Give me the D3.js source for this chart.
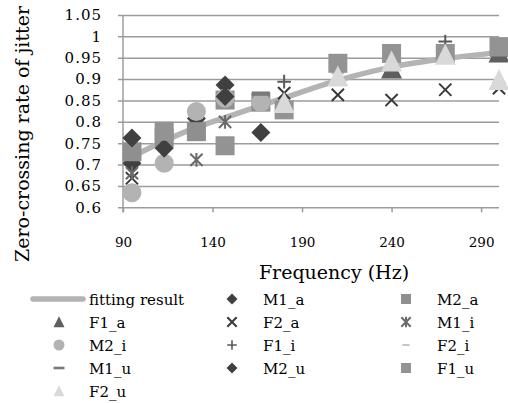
<!DOCTYPE html>
<html>
<head>
<meta charset="utf-8">
<script src="https://cdn.jsdelivr.net/npm/d3@7"></script>
<style>
  html, body { margin: 0; padding: 0; background: #fff; }
  svg { display: block; }
</style>
</head>
<body>
<svg id="chart" width="508" height="403"></svg>
<script>
// ---- data ----
const xTicks = [90, 140, 190, 240, 290];
const yTicks = [0.6, 0.65, 0.7, 0.75, 0.8, 0.85, 0.9, 0.95, 1.0, 1.05];

const fitFreq  = [95, 113, 131, 147, 167, 180, 210, 240, 270, 300];
const fitValue = [0.718, 0.755, 0.787, 0.810, 0.838, 0.856, 0.897, 0.928, 0.948, 0.962];

const M1_a = [[95, 0.703], [131, 0.808], [147, 0.886]];
const M2_a = [[95, 0.730], [113, 0.762], [131, 0.777], [147, 0.851], [167, 0.846]];
const F1_a = [[240, 0.925], [300, 0.962]];
const F2_a = [[95, 0.668], [180, 0.867], [210, 0.863], [240, 0.851], [270, 0.875], [300, 0.879]];
const M1_i = [[95, 0.680], [131, 0.711], [147, 0.800]];
const M2_i = [[95, 0.634], [113, 0.703], [131, 0.824], [147, 0.855], [167, 0.845]];
const F1_i = [[180, 0.894], [270, 0.988]];
const F2_i = [[210, 0.915], [240, 0.945]];
const M1_u = [[167, 0.866], [300, 0.957]];
const M2_u = [[95, 0.762], [113, 0.738], [147, 0.859], [167, 0.775]];
const F1_u = [[113, 0.778], [147, 0.744], [180, 0.828], [210, 0.937], [240, 0.960], [270, 0.960], [300, 0.976]];
const F2_u = [[180, 0.844], [210, 0.906], [240, 0.941], [270, 0.957], [300, 0.898]];

const seriesNames = ["M1_a", "M2_a", "F1_a", "F2_a", "M1_i", "M2_i", "F1_i", "F2_i", "M1_u", "M2_u", "F1_u", "F2_u"];
const seriesData  = [M1_a, M2_a, F1_a, F2_a, M1_i, M2_i, F1_i, F2_i, M1_u, M2_u, F1_u, F2_u];
const seriesShape = ["diamond", "square", "triangle", "x", "asterisk", "circle", "plus", "dashSmall", "dash", "diamond", "square", "triangle"];
const seriesColor = ["#404040", "#8f8f8f", "#5f5f5f", "#3a3a3a", "#6a6a6a", "#b3b3b3", "#5a5a5a", "#c0c0c0", "#7a7a7a", "#404040", "#939393", "#d9d9d9"];

// ---- layout ----
const FONT = "'DejaVu Serif', serif";
const svg = d3.select("#chart");
const x = d3.scaleLinear().domain([90, 300]).range([123, 499]);
const y = d3.scaleLinear().domain([0.6, 1.05]).range([207.3, 15]);
const gridColor = "#9c9c9c";

// gridlines + y axis
const yAxis = d3.axisLeft(y).tickValues(yTicks).tickSize(-(499 - 123)).tickPadding(4)
  .tickFormat(d => String(+d.toFixed(2)));
const gy = svg.append("g").attr("transform", "translate(123,0)").call(yAxis)
  .attr("font-family", null).attr("font-size", null);
gy.select(".domain").remove();
gy.selectAll(".tick line").attr("x1", -5).attr("stroke", gridColor).attr("stroke-width", 1.5);
gy.selectAll(".tick text").attr("x", -21).attr("letter-spacing", "1px")
  .style("font-family", FONT).style("font-size", "15px").attr("fill", "#000");

// y axis vertical line
svg.append("line").attr("x1", 123).attr("x2", 123).attr("y1", y(1.05)).attr("y2", y(0.6) + 5)
  .attr("stroke", gridColor).attr("stroke-width", 1.5);

// x axis
const xAxis = d3.axisBottom(x).tickValues(xTicks).tickSize(5).tickPadding(25);
const gx = svg.append("g").attr("transform", `translate(0,${y(0.6)})`).call(xAxis)
  .attr("font-family", null).attr("font-size", null);
gx.select(".domain").remove();
gx.selectAll(".tick line").attr("stroke", gridColor).attr("stroke-width", 1.5);
gx.selectAll(".tick text")
  .style("font-family", FONT).style("font-size", "13.5px").attr("fill", "#000");

// axis titles
svg.append("text").attr("x", 334).attr("y", 279).attr("text-anchor", "middle")
  .style("font-family", FONT).style("font-size", "19px").text("Frequency (Hz)");
svg.append("text").attr("transform", "translate(29,134) rotate(-90)").attr("text-anchor", "middle")
  .style("font-family", FONT).style("font-size", "19px").text("Zero-crossing rate of jitter");

// ---- markers ----
function drawMarker(g, shape, color, s) {
  const h = s / 2;
  switch (shape) {
    case "diamond":
      g.append("path").attr("d", `M0,${-h}L${h},0L0,${h}L${-h},0Z`).attr("fill", color); break;
    case "square":
      g.append("rect").attr("x", -h).attr("y", -h).attr("width", s).attr("height", s).attr("fill", color); break;
    case "triangle":
      g.append("path").attr("d", `M0,${-h * 1.05}L${h},${h * 0.95}L${-h},${h * 0.95}Z`).attr("fill", color); break;
    case "circle":
      g.append("circle").attr("r", h).attr("fill", color); break;
    case "x": {
      const k = h * 0.72;
      g.append("path").attr("d", `M${-k},${-k}L${k},${k}M${-k},${k}L${k},${-k}`)
        .attr("stroke", color).attr("stroke-width", s > 12 ? 2 : 1.6).attr("fill", "none"); break;
    }
    case "asterisk": {
      const k = h * 0.72, v = h * 0.8;
      g.append("path").attr("d", `M${-k},${-k}L${k},${k}M${-k},${k}L${k},${-k}M0,${-v}L0,${v}`)
        .attr("stroke", color).attr("stroke-width", s > 12 ? 2 : 1.6).attr("fill", "none"); break;
    }
    case "plus": {
      const k = h * 0.8;
      g.append("path").attr("d", `M${-k},0L${k},0M0,${-k}L0,${k}`)
        .attr("stroke", color).attr("stroke-width", s > 12 ? 2 : 1.6).attr("fill", "none"); break;
    }
    case "dash":
      g.append("rect").attr("x", -h).attr("y", -s * 0.12).attr("width", s).attr("height", s * 0.24).attr("fill", color); break;
    case "dashSmall":
      g.append("rect").attr("x", -h * 0.8).attr("y", -s * 0.1).attr("width", s * 0.8).attr("height", s * 0.2).attr("fill", color); break;
  }
}

// fitting line (drawn below markers)
const fitPts = fitFreq.map((f, i) => [f, fitValue[i]]);
const line = d3.line().x(d => x(d[0])).y(d => y(d[1])).curve(d3.curveMonotoneX);
svg.append("path").datum(fitPts).attr("d", line).attr("fill", "none")
  .attr("stroke", "#b4b4b4").attr("stroke-width", 5.5).attr("stroke-linecap", "round");

const plotSize = { diamond: 19, square: 19, triangle: 21, circle: 19, x: 17, asterisk: 17, plus: 17, dash: 18, dashSmall: 16 };
seriesData.forEach((pts, i) => {
  const g = svg.append("g").attr("class", "series-" + seriesNames[i]);
  pts.forEach(p => {
    const mg = g.append("g").attr("transform", `translate(${x(p[0])},${y(p[1])})`);
    drawMarker(mg, seriesShape[i], seriesColor[i], plotSize[seriesShape[i]]);
  });
});

// ---- legend ----
const legendNames = ["fitting result"].concat(seriesNames);
const colMarkX = [59, 232, 406];
const colTextX = [89, 263, 437];
const rowY = [299, 322, 345, 368, 391];
const legSize = { diamond: 11, square: 10, triangle: 11, circle: 11, x: 13, asterisk: 13, plus: 12, dash: 11, dashSmall: 9 };
const leg = svg.append("g");
legendNames.forEach((name, i) => {
  const col = i % 3, row = Math.floor(i / 3);
  const cy = rowY[row];
  if (i === 0) {
    leg.append("line").attr("x1", 33).attr("x2", 83).attr("y1", cy).attr("y2", cy)
      .attr("stroke", "#b4b4b4").attr("stroke-width", 5.5).attr("stroke-linecap", "round");
  } else {
    const shape = seriesShape[i - 1];
    const mg = leg.append("g").attr("transform", `translate(${colMarkX[col]},${cy})`);
    drawMarker(mg, shape, seriesColor[i - 1], legSize[shape]);
  }
  leg.append("text").attr("x", colTextX[col]).attr("y", cy + 6)
    .style("font-family", FONT).style("font-size", "15px").text(name);
});
</script>
</body>
</html>
